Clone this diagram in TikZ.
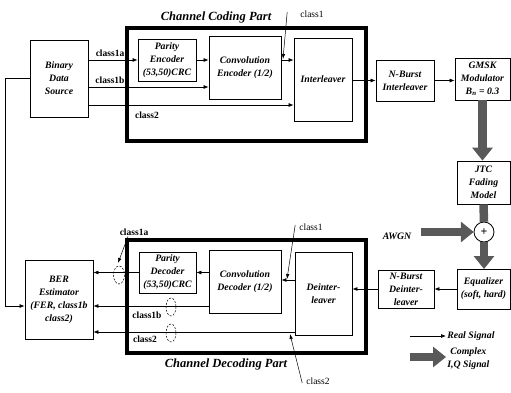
\documentclass[tikz,border=0pt]{standalone}
\usepackage{fontspec}
\setmainfont{Liberation Serif}
\usetikzlibrary{arrows.meta}
\tikzset{
	blk/.style={draw, line width=0.8pt, align=center, inner sep=1pt, font=\fontsize{9.8}{13}\selectfont\bfseries\itshape},
	partframe/.style={line width=3.5pt},
	title/.style={font=\fontsize{12.5}{14}\selectfont\bfseries\itshape},
	cls/.style={inner sep=1pt, font=\fontsize{9.5}{11}\selectfont\bfseries},
	clsthin/.style={inner sep=1pt, font=\fontsize{9.5}{11}\selectfont},
	sig/.style={line width=0.7pt, -{Latex[length=5pt,width=4pt]}},
	pointer/.style={line width=0.5pt, -{Latex[length=5pt,width=3.5pt]}},
	iq/.style={line width=8.5pt, black!65, -{Triangle[width=20pt,length=13pt]}},
	iqline/.style={line width=8.5pt, black!65},
	twist/.style={line width=0.5pt, dash pattern=on 2pt off 1.5pt}
}

\begin{document}
\begin{tikzpicture}[x=1pt, y=-1pt]
		%%%%% START %%%%%
		\useasboundingbox (0, 0) rectangle (511, 393);
		
		% coding part
		\draw[partframe] (127, 28) rectangle (366, 141);
		\node[title] (codtitle) at (216, 17) {Channel Coding Part};
		
		\node[blk, minimum width=58pt, minimum height=77pt] (src) at (59, 78.5) {Binary\\Data\\Source};
		\node[blk, minimum width=58pt, minimum height=42pt] (penc) at (167, 60) {Parity\\Encoder\\(53,50)CRC};
		\node[blk, minimum width=72pt, minimum height=63pt] (cenc) at (245, 67.5) {Convolution\\Encoder (1/2)};
		\node[blk, minimum width=58pt, minimum height=83pt] (intl) at (323, 79.5) {Interleaver};
		\node[blk, minimum width=58pt, minimum height=41pt] (nbi) at (405, 80.5) {N-Burst\\Interleaver};
		\node[blk, minimum width=55pt, minimum height=42pt] (gmsk) at (482.5, 79) {GMSK\\Modulator\\B\textsubscript{n} = 0.3};
		\node[blk, minimum width=53pt, minimum height=43pt] (jtc) at (483.5, 182.5) {JTC\\Fading\\Model};
		\draw[line width=0.8pt, fill=white] (484, 232) circle (10);
		\node[inner sep=0pt, minimum size=20pt, font=\bfseries\large] (sum) at (484, 232) {+};
		\node[blk, draw=none, outer xsep=9pt] (awgn) at (397, 236) {AWGN};
		
		\coordinate (r1) at (0, 60);
		\coordinate (r1b) at (0, 87);
		\coordinate (r2) at (0, 105);
		
		\node[cls] (l1a) at (110, 53) {class1a};
		\node[cls] (l1b) at (110, 80) {class1b};
		\node[cls] (l2) at (147, 115) {class2};
		\node[clsthin] (l1) at (312, 14) {class1};
		
		\draw[sig] (src.east |- penc.west) -- (penc.west);
		\draw[sig] (src.east |- r1b) -- (cenc.west |- r1b);
		\draw[sig] (src.east |- r2) -- (intl.west |- r2);
		\draw[sig] (penc.east) -- (penc.east -| cenc.west);
		\draw[sig] (cenc.east |- r1) -- (intl.west |- r1);
		\coordinate (p1) at (283, 59);
		\draw[pointer] ([xshift=-12pt, yshift=2pt]l1.west) -- (p1);
		\draw[sig] (intl.east |- nbi.west) -- (nbi.west);
		\draw[sig] (nbi.east) -- (nbi.east -| gmsk.west);
		
		% channel
		\draw[iq] (gmsk.south) -- (gmsk.south |- jtc.north);
		\draw[iqline] (jtc.south) -- (sum.north);
		\draw[iq] (awgn.east |- sum) -- (sum.west);
		\draw[iq] (sum.south) -- (sum.south |- 0, 269);
		
		% decoding part
		\draw[partframe] (127, 240) rectangle (366, 353);
		\node[title] (dectitle) at (226, 364) {Channel Decoding Part};
		
		\node[blk, minimum width=53pt, minimum height=40pt] (eq) at (483.5, 289) {Equalizer\\(soft, hard)};
		\node[blk, minimum width=56pt, minimum height=38pt] (nbd) at (406, 289) {N-Burst\\Deinter-\\leaver};
		\node[blk, minimum width=57pt, minimum height=83pt] (dint) at (323.5, 293.5) {Deinter-\\leaver};
		\node[blk, minimum width=72pt, minimum height=63pt] (cdec) at (245, 281.5) {Convolution\\Decoder (1/2)};
		\node[blk, minimum width=57pt, minimum height=41pt] (pdec) at (167.5, 272.5) {Parity\\Decoder\\(53,50)CRC};
		\node[blk, minimum width=68pt, minimum height=79pt] (ber) at (59, 299.5) {BER\\Estimator\\(FER, class1b\\class2)};
		
		\coordinate (r1d) at (0, 280);
		\coordinate (r1bd) at (0, 306);
		\coordinate (r2d) at (0, 332);
		\coordinate (fbx) at (5, 0);
		
		\node[cls] (d1a) at (134, 232) {class1a};
		\node[cls] (d1b) at (147, 315) {class1b};
		\node[cls] (d2) at (145, 339) {class2};
		\node[clsthin] (d1) at (311, 227) {class1};
		\node[clsthin] (d2b) at (318, 381) {class2};
		
		\draw[sig] (eq.west) -- (nbd.east);
		\draw[sig] (nbd.west) -- (nbd.west -| dint.east);
		\draw[sig] (dint.west |- r1d) -- (cdec.east |- r1d);
		\draw[sig] (cdec.west |- pdec.east) -- (pdec.east);
		\draw[sig] (pdec.west) -- (pdec.west -| ber.east);
		\draw[sig] (cdec.west |- r1bd) -- (ber.east |- r1bd);
		\draw[sig] (dint.west |- r2d) -- (ber.east |- r2d);
		\draw[sig] (src.west) -- (src.west -| fbx) |- (ber.west |- r1bd);
		
		\coordinate (q1) at (287, 279);
		\coordinate (q2) at (290, 334);
		\coordinate (q1a) at (118, 263);
		\draw[pointer] ([xshift=-3pt, yshift=2pt]d1.west) -- (q1);
		\draw[pointer] ([xshift=-3pt, yshift=-2pt]d2b.west) -- (q2);
		\draw[pointer] ([xshift=-6pt]d1a.south) -- (q1a);
		
		\draw[twist] (119, 275) ellipse (5.5 and 9);
		\draw[twist] (171, 307) ellipse (5 and 9);
		\draw[twist] (171, 333) ellipse (5 and 9);
		
		% legend
		\node[blk, draw=none, anchor=west] (lreal) at (446, 336) {Real Signal};
		\node[blk, draw=none, anchor=west] (liq) at (446, 359) {Complex\\I,Q Signal};
		\coordinate (lr0) at (410, 336);
		\coordinate (li0) at (410, 357);
		\draw[sig] (lr0) -- (lreal.west);
		\draw[iq] (li0) -- (liq.west |- li0);
		
		%%%%% END %%%%%
\end{tikzpicture}
\end{document}
